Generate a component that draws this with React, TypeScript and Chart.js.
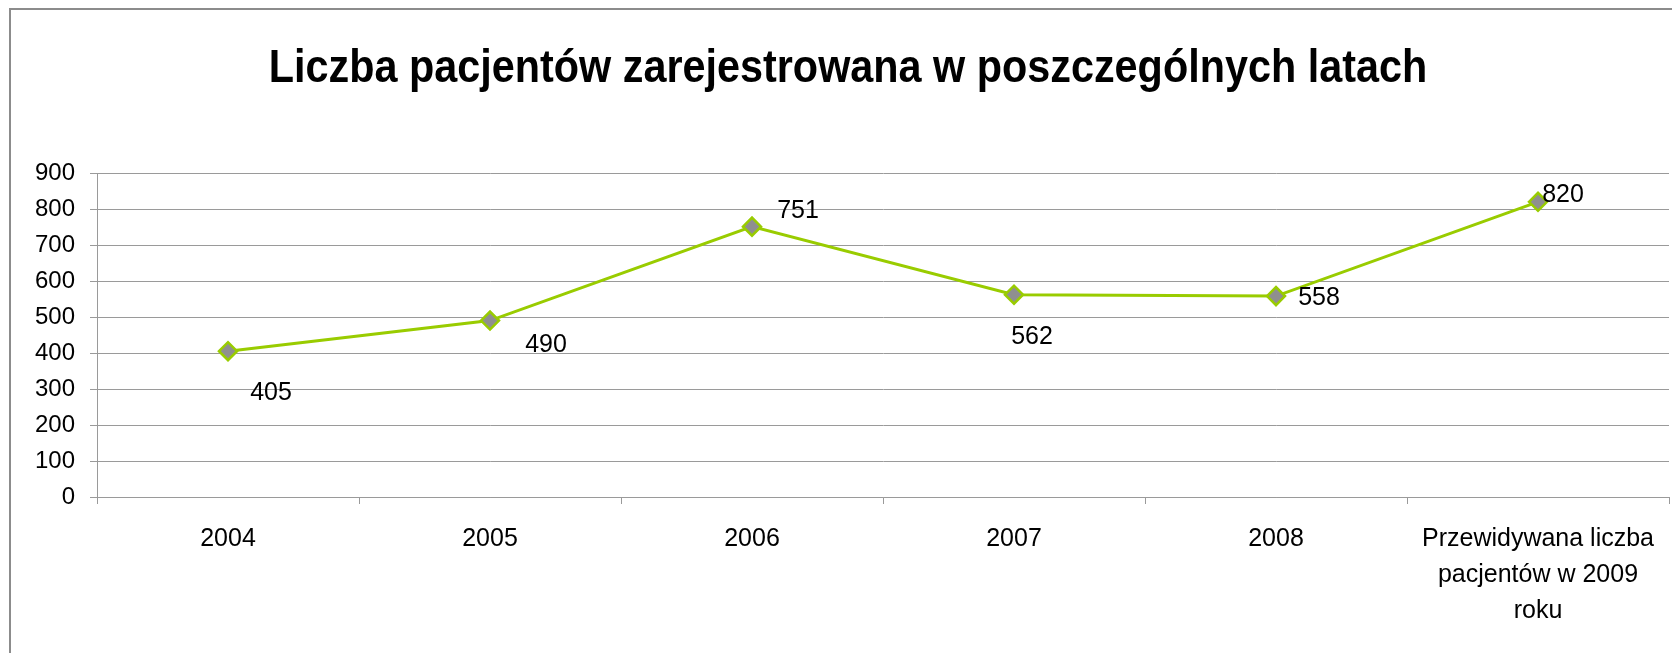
import React, { useEffect, useRef } from "react";
import { Chart, registerables } from "chart.js";

Chart.register(...registerables);

const titleText = "Liczba pacjentów zarejestrowana w poszczególnych latach";
const categories: (string | string[])[] = [
  "2004",
  "2005",
  "2006",
  "2007",
  "2008",
  ["Przewidywana liczba", "pacjentów w 2009", "roku"],
];
const patients = [405, 490, 751, 562, 558, 820];
const yTicks = [0, 100, 200, 300, 400, 500, 600, 700, 800, 900];

// label placement (offset of label centre from point centre, in px)
const labelOffsets = [
  [43, 40],
  [56, 22],
  [46, -18],
  [18, 40],
  [43, 0],
  [25, -9],
];

const FONT = "'Liberation Sans', Arial, sans-serif";

const decorPlugin = {
  id: "decor",
  beforeDraw(chart: any) {
    const ctx = chart.ctx;
    ctx.save();
    ctx.fillStyle = "#ffffff";
    ctx.fillRect(0, 0, chart.width, chart.height);
    ctx.strokeStyle = "#8c8c8c";
    ctx.lineWidth = 2;
    ctx.beginPath();
    ctx.moveTo(10, chart.height);
    ctx.lineTo(10, 9);
    ctx.lineTo(chart.width, 9);
    ctx.stroke();
    ctx.restore();
    ctx.save();
    ctx.fillStyle = "#000";
    ctx.font = `bold 47px ${FONT}`;
    ctx.textAlign = "center";
    ctx.textBaseline = "alphabetic";
    ctx.translate(848, 82);
    ctx.scale(0.88, 1);
    ctx.fillText(titleText, 0, 0);
    ctx.restore();
  },
  afterDatasetsDraw(chart: any) {
    const ctx = chart.ctx;
    const meta = chart.getDatasetMeta(0);
    ctx.save();
    ctx.fillStyle = "#000";
    ctx.font = `25px ${FONT}`;
    ctx.textAlign = "center";
    ctx.textBaseline = "alphabetic";
    meta.data.forEach((pt: any, i: number) => {
      const [dx, dy] = labelOffsets[i];
      ctx.fillText(String(patients[i]), pt.x + dx, pt.y + dy + 9);
    });
    ctx.restore();
  },
};

export default function App() {
  const ref = useRef<HTMLCanvasElement>(null);
  useEffect(() => {
    if (!ref.current) return;
    document.body.style.margin = "0";
    document.body.style.overflow = "hidden";
    const chart = new Chart(ref.current, {
      type: "line",
      data: {
        labels: categories,
        datasets: [
          {
            data: patients,
            borderColor: "#99cc00",
            borderWidth: 3,
            pointStyle: "rectRot",
            pointRadius: 9,
            pointBackgroundColor: "#8f8f8f",
            pointBorderColor: "#99cc00",
            pointBorderWidth: 2.5,
            tension: 0,
          },
        ],
      },
      options: {
        animation: false,
        responsive: false,
        devicePixelRatio: 1,
        layout: { autoPadding: false, padding: { top: 173, left: 0, right: 3, bottom: 0 } },
        plugins: {
          legend: { display: false },
          title: { display: false },
          tooltip: { enabled: false },
        },
        scales: {
          x: {
            offset: true,
            grid: {
              offset: true,
              drawOnChartArea: false,
              drawTicks: true,
              tickLength: 7,
              color: "#9a9a9a",
            },
            border: { display: true, color: "#9a9a9a" },
            ticks: {
              color: "#000",
              font: { family: FONT, size: 25, lineHeight: 1.44 },
              padding: 17,
              maxRotation: 0,
              autoSkip: false,
            },
            afterFit: (s: any) => {
              s.height = 156;
              s.paddingLeft = 0;
              s.paddingRight = 0;
            },
          },
          y: {
            min: 0,
            max: 900,
            afterBuildTicks: (s: any) => {
              s.ticks = yTicks.map((v) => ({ value: v }));
            },
            grid: {
              color: "#9a9a9a",
              drawTicks: true,
              tickLength: 7,
            },
            border: { display: true, color: "#9a9a9a" },
            ticks: {
              color: "#000",
              font: { family: FONT, size: 24 },
              padding: 15,
            },
            afterFit: (s: any) => {
              s.width = 97;
            },
          },
        },
      },
      plugins: [decorPlugin],
    });
    return () => chart.destroy();
  }, []);
  return (
    <div style={{ position: "fixed", left: 0, top: 0, width: "1672px", height: "653px" }}>
      <canvas ref={ref} width={1672} height={653} style={{ display: "block" }} />
    </div>
  );
}
